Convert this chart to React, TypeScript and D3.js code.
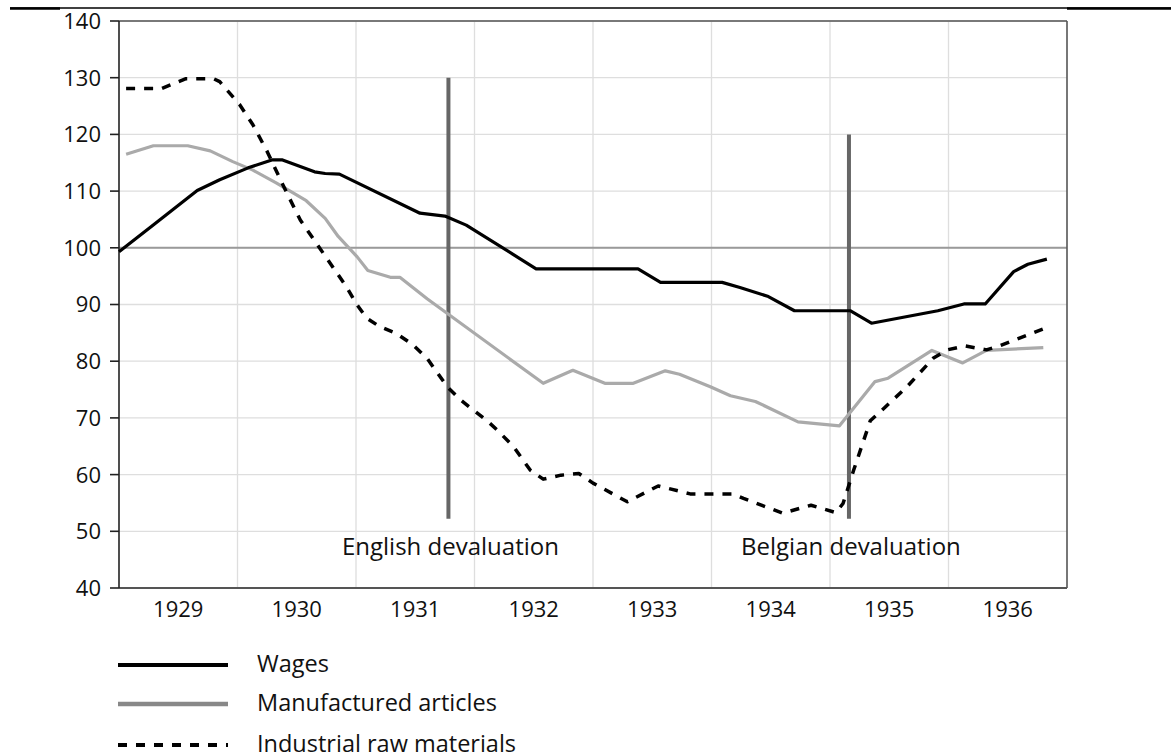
import React from "react";
import * as d3 from "d3";

// ---- data (decimal year, index value) ----
const yearLabels = [1929, 1930, 1931, 1932, 1933, 1934, 1935, 1936];
const yTicks = [40, 50, 60, 70, 80, 90, 100, 110, 120, 130, 140];

const wages: [number, number][] = [
  [1929.0, 99.3], [1929.3, 104.2], [1929.66, 110.1], [1929.85, 112.0], [1930.09, 114.1],
  [1930.29, 115.5], [1930.38, 115.5], [1930.65, 113.4], [1930.74, 113.1], [1930.86, 113.0],
  [1931.54, 106.1], [1931.75, 105.6], [1931.93, 104.0], [1932.52, 96.3], [1933.38, 96.3],
  [1933.57, 93.9], [1934.09, 93.9], [1934.24, 93.0], [1934.48, 91.4], [1934.7, 88.9],
  [1935.17, 88.9], [1935.35, 86.7], [1935.63, 87.8], [1935.91, 88.9], [1936.13, 90.1],
  [1936.31, 90.1], [1936.55, 95.8], [1936.67, 97.1], [1936.83, 98.0],
];

const manufactured: [number, number][] = [
  [1929.06, 116.5], [1929.29, 118.0], [1929.58, 118.0], [1929.77, 117.1], [1929.96, 115.2],
  [1930.13, 113.7], [1930.33, 111.4], [1930.58, 108.3], [1930.74, 105.2], [1930.85, 102.0],
  [1931.01, 98.4], [1931.1, 96.0], [1931.29, 94.8], [1931.37, 94.8], [1931.6, 91.0],
  [1932.58, 76.1], [1932.83, 78.4], [1933.1, 76.1], [1933.34, 76.1], [1933.61, 78.3],
  [1933.73, 77.7], [1933.99, 75.5], [1934.16, 73.9], [1934.37, 72.9], [1934.73, 69.3],
  [1935.08, 68.6], [1935.38, 76.4], [1935.49, 77.0], [1935.86, 81.9], [1936.12, 79.7],
  [1936.32, 81.9], [1936.8, 82.4],
];

const rawMaterials: [number, number][] = [
  [1929.06, 128.1], [1929.36, 128.1], [1929.56, 129.8], [1929.8, 129.8], [1929.85, 129.3],
  [1930.02, 125.2], [1930.13, 121.7], [1930.25, 117.0], [1930.39, 110.8], [1930.53, 104.9],
  [1930.92, 93.1], [1931.01, 89.9], [1931.09, 87.6], [1931.2, 86.1], [1931.34, 84.9],
  [1931.48, 82.9], [1931.6, 80.5], [1931.77, 75.5], [1931.88, 73.2], [1932.1, 69.6],
  [1932.19, 67.9], [1932.33, 64.9], [1932.47, 60.8], [1932.58, 59.2], [1932.73, 59.9],
  [1932.88, 60.2], [1933.0, 58.5], [1933.29, 55.2], [1933.55, 58.0], [1933.82, 56.6],
  [1934.18, 56.6], [1934.27, 55.8], [1934.6, 53.2], [1934.84, 54.6], [1935.05, 53.3],
  [1935.11, 54.9], [1935.2, 60.8], [1935.34, 69.5], [1935.44, 71.4], [1935.65, 75.5],
  [1935.87, 80.5], [1935.99, 82.0], [1936.14, 82.7], [1936.32, 82.0], [1936.43, 82.7],
  [1936.84, 86.0],
];

const devaluations = [
  { label: "English devaluation", date: 1931.78, low: 52.2, high: 130 },
  { label: "Belgian devaluation", date: 1935.16, low: 52.2, high: 120 },
];

const legendItems = [
  { label: "Wages", key: "wages" },
  { label: "Manufactured articles", key: "manufactured" },
  { label: "Industrial raw materials", key: "raw" },
];

// ---- layout ----
const W = 1171;
const H = 756;
const PL = 119, PR = 1067, PT = 21, PB = 588;
const FONT = "'Open Sans', 'Noto Sans', sans-serif";

export default function App() {
  const x = d3.scaleLinear().domain([1929, 1937]).range([PL, PR]);
  const y = d3.scaleLinear().domain([40, 140]).range([PB, PT]);
  const line = d3
    .line<[number, number]>()
    .x((d) => x(d[0]))
    .y((d) => y(d[1]));

  const gridYears = d3.range(1930, 1937);

  return (
    <svg
      width={W}
      height={H}
      viewBox={`0 0 ${W} ${H}`}
      style={{ position: "absolute", left: 0, top: 0, background: "#fff" }}
      fontFamily={FONT}
    >
      {/* header rule */}
      <line x1={10} x2={W} y1={8} y2={8} stroke="#000" strokeWidth={1.3} />
      <line x1={10} x2={60} y1={8.5} y2={8.5} stroke="#000" strokeWidth={2.5} />
      <line x1={PR} x2={W} y1={8.5} y2={8.5} stroke="#000" strokeWidth={2.5} />

      {/* grid */}
      {yTicks.map((t) => (
        <line key={"gy" + t} x1={PL} x2={PR} y1={y(t)} y2={y(t)} stroke="#dedede" strokeWidth={1.3} />
      ))}
      {gridYears.map((t) => (
        <line key={"gx" + t} x1={x(t)} x2={x(t)} y1={PT} y2={PB} stroke="#dedede" strokeWidth={1.3} />
      ))}
      <line x1={PL} x2={PR} y1={y(100)} y2={y(100)} stroke="#9a9a9a" strokeWidth={2} />

      {/* frame */}
      <line x1={PL} x2={PR} y1={PT} y2={PT} stroke="#555" strokeWidth={1.5} />
      <line x1={PR} x2={PR} y1={PT} y2={PB} stroke="#555" strokeWidth={1.6} />
      <line x1={PL} x2={PR} y1={PB} y2={PB} stroke="#555" strokeWidth={2} />
      <line x1={PL} x2={PL} y1={PT} y2={PB} stroke="#222" strokeWidth={1.6} />

      {/* y axis ticks + labels */}
      {yTicks.map((t) => (
        <g key={"yt" + t}>
          <line x1={PL - 9} x2={PL} y1={y(t)} y2={y(t)} stroke="#222" strokeWidth={1.6} />
          <text x={101} y={y(t)} dy="0.36em" textAnchor="end" fontSize={22} fill="#111">
            {t}
          </text>
        </g>
      ))}

      {/* x labels */}
      {yearLabels.map((yr) => (
        <text key={"xl" + yr} x={x(yr + 0.5)} y={617} textAnchor="middle" fontSize={22} fill="#111">
          {yr}
        </text>
      ))}

      {/* devaluation markers */}
      {devaluations.map((d) => (
        <g key={d.label}>
          <line x1={x(d.date)} x2={x(d.date)} y1={y(d.high)} y2={y(d.low)} stroke="#666" strokeWidth={4} />
          <text x={x(d.date) + 2} y={555} textAnchor="middle" fontSize={24} fill="#111">
            {d.label}
          </text>
        </g>
      ))}

      {/* series */}
      <path d={line(manufactured) || ""} fill="none" stroke="#aaaaaa" strokeWidth={3.2} strokeLinejoin="round" />
      <path d={line(wages) || ""} fill="none" stroke="#000" strokeWidth={3.2} strokeLinejoin="round" />
      <path
        d={line(rawMaterials) || ""}
        fill="none"
        stroke="#000"
        strokeWidth={3.5}
        strokeDasharray="9,9"
        strokeLinejoin="round"
      />

      {/* legend */}
      {legendItems.map((it, i) => {
        const ly = [665, 704, 745][i];
        const stroke = it.key === "manufactured" ? "#888" : "#000";
        return (
          <g key={it.key}>
            <line
              x1={118}
              x2={228}
              y1={ly}
              y2={ly}
              stroke={stroke}
              strokeWidth={it.key === "manufactured" ? 4.5 : 4}
              strokeDasharray={it.key === "raw" ? "9,9" : undefined}
            />
            <text x={257} y={ly + 7} fontSize={23.5} fill="#111">
              {it.label}
            </text>
          </g>
        );
      })}
    </svg>
  );
}
